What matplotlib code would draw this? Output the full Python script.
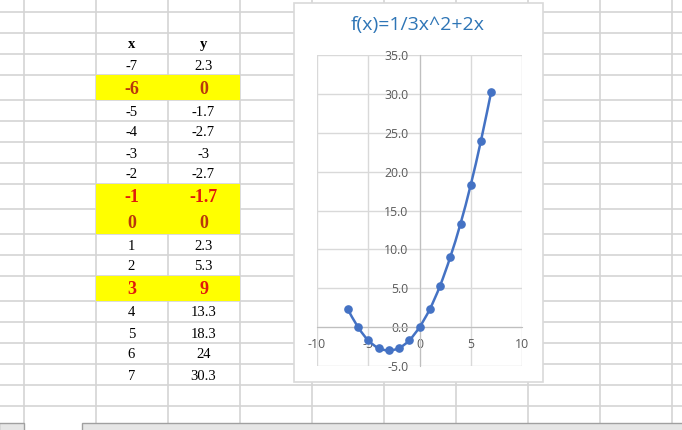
import matplotlib
matplotlib.use("Agg")
import matplotlib.pyplot as plt
from matplotlib.patches import Rectangle, PathPatch
from matplotlib.path import Path
import numpy as np

# ---- data ----
x_vals = [-7, -6, -5, -4, -3, -2, -1, 0, 1, 2, 3, 4, 5, 6, 7]
y_vals = [2.3, 0, -1.7, -2.7, -3, -2.7, -1.7, 0, 2.3, 5.3, 9, 13.3, 18.3, 24, 30.3]
y_labels = ["2.3", "0", "-1.7", "-2.7", "-3", "-2.7", "-1.7", "0", "2.3", "5.3", "9", "13.3", "18.3", "24", "30.3"]
highlight_dark = [-6, 0]
highlight_bright = [-1, 3]
title = "f(x)=1/3x^2+2x"
x_ticks = [-10, -5, 0, 5, 10]
y_ticks = [-5, 0, 5, 10, 15, 20, 25, 30, 35]

W, H = 682, 430
fig = plt.figure(figsize=(W / 100, H / 100), dpi=100)
bg = fig.add_axes([0, 0, 1, 1])
bg.set_xlim(0, W)
bg.set_ylim(H, 0)
bg.axis("off")

gridc = "#d4d4d4"
col_lines = [23.5 + 72 * k for k in range(10)]
cur = 54.3
data_rows = []
for xv in x_vals:
    h = 25 if (xv in highlight_dark or xv in highlight_bright) else 21
    data_rows.append((cur, cur + h))
    cur += h
row_lines = [12.3, 33.3, 54.3] + [b for (_, b) in data_rows] + [cur + 21]

bar_top = 423
for xl in col_lines:
    bg.vlines(xl, 0, bar_top, color=gridc, lw=1.2, zorder=1)
for yl in row_lines:
    bg.hlines(yl, 0, W, color=gridc, lw=1.2, zorder=1)

# bottom bar
bg.add_patch(Rectangle((-1, bar_top), 24.5, 10, facecolor="#e6e6e6", edgecolor="#a0a0a0", lw=1, zorder=2))
bg.add_patch(Rectangle((82, bar_top), 610, 10, facecolor="#e6e6e6", edgecolor="#a0a0a0", lw=1, zorder=2))

# table
cx, cy = 131.5, 203.5
serif = "Liberation Serif"
bg.text(cx, 44.5, "x", ha="center", va="center", fontsize=10.5, fontweight="bold", family=serif, zorder=5)
bg.text(cy, 44.5, "y", ha="center", va="center", fontsize=10.5, fontweight="bold", family=serif, zorder=5)
for xv, lab, (t, b) in zip(x_vals, y_labels, data_rows):
    mid = (t + b) / 2 + 1.2
    if xv in highlight_dark or xv in highlight_bright:
        col = "#b8380c" if xv in highlight_dark else "#e01a0c"
        bg.add_patch(Rectangle((95.5, t), 144, b - t, facecolor="#ffff00", edgecolor="none", zorder=3))
        bg.text(cx, mid, str(xv), ha="center", va="center", fontsize=13, fontweight="bold",
                color=col, family=serif, zorder=5)
        bg.text(cy, mid, lab, ha="center", va="center", fontsize=13, fontweight="bold",
                color=col, family=serif, zorder=5)
    else:
        bg.text(cx, mid, str(xv), ha="center", va="center", fontsize=10.5, family=serif, zorder=5)
        bg.text(cy, mid, lab, ha="center", va="center", fontsize=10.5, family=serif, zorder=5)

# chart box
bg.add_patch(Rectangle((294, 3), 249, 379, facecolor="white", edgecolor="#d9d9d9", lw=1.2, zorder=6))
bg.text(418, 25, title, ha="center", va="center", fontsize=14, color="#2e75b6", family="Open Sans", zorder=7)

# plot area
L, R, T, B = 317, 522, 55, 366
ax = fig.add_axes([L / W, (H - B) / H, (R - L) / W, (B - T) / H], zorder=8)
ax.set_facecolor("none")
ax.set_xlim(-10, 10)
ax.set_ylim(-5, 35)
ax.set_xticks(x_ticks)
ax.set_yticks(y_ticks)
ax.set_xticklabels([str(v) for v in x_ticks])
ax.set_yticklabels(["%.1f" % v for v in y_ticks])
ax.grid(True, color="#d9d9d9", lw=1.0, zorder=0)
ax.set_axisbelow(True)
for s in ["top", "right"]:
    ax.spines[s].set_visible(False)
ax.spines["left"].set_position(("data", 0))
ax.spines["bottom"].set_position(("data", 0))
ax.spines["left"].set_color("#bfbfbf")
ax.spines["bottom"].set_color("#bfbfbf")
ax.tick_params(length=0, labelsize=8.8, labelcolor="#595959")
ax.tick_params(axis="y", pad=8)
ax.tick_params(axis="x", pad=8)
for lab in ax.get_xticklabels() + ax.get_yticklabels():
    lab.set_family("Open Sans")

# smoothed line (Excel style bezier)
px = np.array(x_vals, dtype=float)
py = np.array(y_vals, dtype=float)
n = len(px)
verts = [(px[0], py[0])]
codes = [Path.MOVETO]
for i in range(n - 1):
    p0 = np.array([px[max(i - 1, 0)], py[max(i - 1, 0)]])
    p1 = np.array([px[i], py[i]])
    p2 = np.array([px[i + 1], py[i + 1]])
    p3 = np.array([px[min(i + 2, n - 1)], py[min(i + 2, n - 1)]])
    c1 = p1 + (p2 - p0) / 6
    c2 = p2 - (p3 - p1) / 6
    verts += [tuple(c1), tuple(c2), tuple(p2)]
    codes += [Path.CURVE4] * 3
ax.add_patch(PathPatch(Path(verts, codes), facecolor="none", edgecolor="#4472c4", lw=1.8, zorder=3))
ax.plot(x_vals, y_vals, linestyle="none", marker="o", markersize=5.2, color="#4472c4", zorder=4, clip_on=False)

fig.savefig("out.png", dpi=100)
